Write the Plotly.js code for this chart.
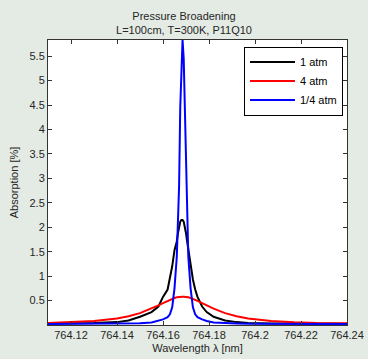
<!DOCTYPE html>
<html>
<head>
<meta charset="utf-8">
<script src="https://cdn.plot.ly/plotly-3.0.1.min.js"></script>
<style>
  html, body { margin: 0; padding: 0; background: #e4ebe4; }
  #chart { width: 368px; height: 359px; }
</style>
</head>
<body>
<div id="chart"></div>
<script>
// Wavelength samples [nm]
const wavelength = [
  764.110, 764.120, 764.130, 764.140, 764.145, 764.150, 764.155, 764.158, 764.160,
  764.162, 764.163, 764.164, 764.165, 764.166, 764.1665, 764.167, 764.1675, 764.168,
  764.1685,
  764.169, 764.1695, 764.170, 764.1705, 764.171, 764.172, 764.173, 764.174, 764.175,
  764.177, 764.179, 764.182, 764.187, 764.192, 764.197, 764.207, 764.217, 764.227, 764.240
];

// Absorption [%] at 1 atm
const abs1atm = [
  0.030, 0.030, 0.040, 0.059, 0.093, 0.168, 0.265, 0.378, 0.575,
  0.726, 0.931, 1.201, 1.530, 1.708, 1.878, 2.019, 2.115, 2.150,
  2.150,
  2.115, 2.019, 1.878, 1.708, 1.530, 1.201, 0.931, 0.726, 0.575,
  0.378, 0.265, 0.168, 0.093, 0.059, 0.040, 0.030, 0.028, 0.026, 0.025
];

// Absorption [%] at 4 atm
const abs4atm = [
  0.039, 0.055, 0.083, 0.135, 0.180, 0.243, 0.334, 0.402, 0.449,
  0.495, 0.517, 0.536, 0.553, 0.566, 0.571, 0.575, 0.578, 0.579,
  0.580,
  0.579, 0.578, 0.575, 0.571, 0.566, 0.553, 0.536, 0.517, 0.495,
  0.449, 0.402, 0.334, 0.243, 0.180, 0.135, 0.083, 0.055, 0.039, 0.035
];

// Absorption [%] at 1/4 atm
const absQuarterAtm = [
  0.020, 0.020, 0.022, 0.025, 0.030, 0.035, 0.050, 0.082, 0.115,
  0.160, 0.220, 0.360, 0.750, 1.400, 1.950, 2.850, 4.450, 5.450,
  5.830,
  5.450, 4.450, 2.850, 1.950, 1.400, 0.750, 0.360, 0.220, 0.160,
  0.115, 0.082, 0.050, 0.035, 0.030, 0.025, 0.022, 0.020, 0.020, 0.020
];

const seriesNames = ['1 atm', '4 atm', '1/4 atm'];
const xTicks = [764.12, 764.14, 764.16, 764.18, 764.2, 764.22, 764.24];
const xTickText = ['764.12', '764.14', '764.16', '764.18', '764.2', '764.22', '764.24'];
const yTicks = [0.5, 1, 1.5, 2, 2.5, 3, 3.5, 4, 4.5, 5, 5.5];
const yTickText = ['0.5', '1', '1.5', '2', '2.5', '3', '3.5', '4', '4.5', '5', '5.5'];

const font = 'Liberation Sans, Arial, Helvetica, sans-serif';
const textColor = '#262626';

const traces = [
  { x: wavelength, y: abs1atm, name: seriesNames[0], mode: 'lines', line: { color: '#000000', width: 2 } },
  { x: wavelength, y: abs4atm, name: seriesNames[1], mode: 'lines', line: { color: '#ff0000', width: 2 } },
  { x: wavelength, y: absQuarterAtm, name: seriesNames[2], mode: 'lines', line: { color: '#0000ff', width: 2 } }
];

const axisCommon = {
  showgrid: false,
  zeroline: false,
  showline: true,
  linecolor: '#333333',
  linewidth: 1,
  mirror: 'ticks',
  ticks: 'inside',
  ticklen: 4,
  tickcolor: '#333333',
  tickfont: { family: font, size: 11, color: textColor }
};

const layout = {
  width: 368,
  height: 359,
  paper_bgcolor: '#e4ebe4',
  plot_bgcolor: '#ffffff',
  margin: { l: 48, r: 21, t: 40, b: 34 },
  title: {
    text: 'Pressure Broadening<br>L=100cm, T=300K, P11Q10',
    font: { family: font, size: 11, color: textColor },
    x: 0.5, xanchor: 'center',
    yref: 'container',
    y: 0.945, yanchor: 'middle'
  },
  xaxis: Object.assign({}, axisCommon, {
    range: [764.11, 764.24],
    tickmode: 'array',
    tickvals: xTicks,
    ticktext: xTickText,
    title: { text: 'Wavelength λ [nm]', font: { family: font, size: 11, color: textColor }, standoff: 4 }
  }),
  yaxis: Object.assign({}, axisCommon, {
    range: [0, 5.83],
    tickmode: 'array',
    tickvals: yTicks,
    ticktext: yTickText,
    title: { text: 'Absorption [%]', font: { family: font, size: 11, color: textColor }, standoff: 8 }
  }),
  showlegend: true,
  legend: {
    x: 0.9866, xanchor: 'right',
    y: 0.977, yanchor: 'top',
    bgcolor: '#ffffff',
    bordercolor: '#000000',
    borderwidth: 1,
    itemwidth: 45,
    font: { family: font, size: 11, color: '#000000' },
    tracegroupgap: 0
  }
};

Plotly.newPlot('chart', traces, layout, { displayModeBar: false, staticPlot: true });
</script>
</body>
</html>
